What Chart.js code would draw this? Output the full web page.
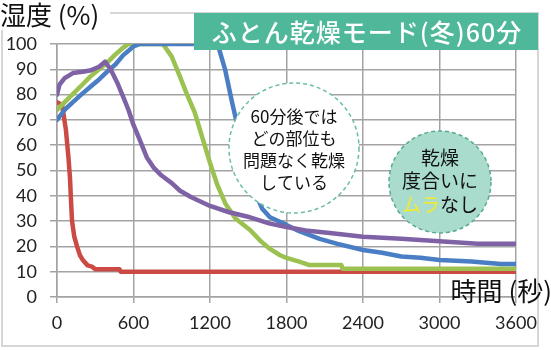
<!DOCTYPE html>
<html>
<head>
<meta charset="utf-8">
<script src="https://cdn.jsdelivr.net/npm/chart.js@4/dist/chart.umd.min.js"></script>
<style>
  body { margin: 0; background: #fff; }
  #wrap { width: 551px; height: 350px; }
</style>
</head>
<body>
<div id="wrap"><canvas id="humid" width="551" height="350"></canvas></div>
<script>
// x ticks (seconds) and y ticks (%)
const xTicks = [0, 600, 1200, 1800, 2400, 3000, 3600];
const yTicks = [0, 10, 20, 30, 40, 50, 60, 70, 80, 90, 100];

// blue
const blueT = [0, 60, 125, 190, 260, 330, 392, 460, 518, 600, 650, 1260, 1318, 1373, 1400, 1450, 1500, 1550, 1608, 1670, 1800, 1900, 2060, 2200, 2400, 2550, 2700, 2850, 3000, 3250, 3480, 3600];
const blueV = [70, 74, 77, 80, 83, 86, 89, 92, 95.5, 99, 100, 100, 90, 77, 71, 60, 50, 42, 35, 31.5, 28.5, 26, 23, 21, 18.6, 17.5, 16, 15.5, 14.6, 14, 13, 13];

// red
const redT = [0, 40, 70, 90, 102, 110, 118, 135, 157, 180, 204, 240, 274, 300, 490, 500, 3600];
const redV = [77, 76, 66, 55, 47, 38, 30, 24, 20, 16.5, 14.5, 12.5, 12, 11, 11, 10, 10];

// green
const greenT = [0, 100, 200, 259, 330, 392, 450, 518, 560, 831, 900, 965, 1020, 1080, 1140, 1200, 1260, 1320, 1400, 1514, 1600, 1670, 1750, 1800, 1900, 1980, 2230, 2240, 3600];
const greenV = [74, 79, 84, 87, 90, 92.5, 95.5, 98.5, 100, 100, 95, 87, 80, 73, 63, 53, 44, 37, 31, 26.5, 22, 19, 16.5, 15.5, 14, 12.6, 12.6, 11.2, 11.2];

// purple
const purpleT = [0, 20, 60, 125, 200, 259, 330, 377, 420, 470, 520, 560, 600, 650, 706, 760, 820, 900, 965, 1050, 1200, 1350, 1514, 1670, 1800, 1950, 2140, 2400, 2700, 3000, 3300, 3600];
const purpleV = [80, 84, 86.5, 88.5, 89, 89.5, 91, 93, 90, 85, 79, 74, 68, 62, 55, 51, 48, 45, 42, 39.5, 36, 33.5, 31.5, 29, 27.7, 26.3, 25.3, 23.8, 23, 22, 21, 21];

function pts(t, v) {
  return t.map((x, i) => ({ x: x, y: v[i] }));
}

const gridCol = '#a3a3a3';
const jp = '"Noto Sans CJK JP", "Noto Sans", sans-serif';

function line(label, t, v, col) {
  return {
    label: label,
    data: pts(t, v),
    showLine: true,
    borderColor: col,
    backgroundColor: col,
    borderWidth: 4.5,
    pointRadius: 0,
    tension: 0,
    borderJoinStyle: 'round',
    borderCapStyle: 'round'
  };
}

// frame, title box, bubbles and axis titles
const decor = {
  id: 'decor',
  beforeDraw(chart) {
    const ctx = chart.ctx;
    ctx.save();
    ctx.fillStyle = '#fff';
    ctx.fillRect(0, 0, chart.width, chart.height);
    ctx.strokeStyle = '#d6d6d6';
    ctx.lineWidth = 2;
    ctx.strokeRect(2, 13, 536, 333);
    ctx.restore();
  },
  afterDraw(chart) {
    const ctx = chart.ctx;
    ctx.save();

    // y axis title
    ctx.fillStyle = '#fff';
    ctx.fillRect(0, 0, 110, 30);
    ctx.fillStyle = '#111';
    ctx.font = '26px ' + jp;
    ctx.textAlign = 'left';
    ctx.textBaseline = 'middle';
    ctx.fillText('湿度 (%)', 0, 15);

    // x axis title
    ctx.textAlign = 'right';
    ctx.fillText('時間 (秒)', 552, 291);

    // title box
    ctx.fillStyle = '#4fb89a';
    ctx.fillRect(194, 13, 344, 37);
    ctx.fillStyle = '#fff';
    ctx.font = '500 25px ' + jp;
    ctx.textAlign = 'center';
    ctx.letterSpacing = '1px';
    ctx.fillText('ふとん乾燥モード(冬)60分', 367, 32);
    ctx.letterSpacing = '0px';

    // bubble 1
    ctx.beginPath();
    ctx.arc(294, 148, 65, 0, Math.PI * 2);
    ctx.fillStyle = '#fff';
    ctx.fill();
    ctx.setLineDash([4, 3]);
    ctx.strokeStyle = '#6cbda6';
    ctx.lineWidth = 1.5;
    ctx.stroke();
    ctx.setLineDash([]);
    ctx.fillStyle = '#111';
    ctx.font = '17px ' + jp;
    const b1 = ['60分後では', 'どの部位も', '問題なく乾燥', 'している'];
    b1.forEach((s, i) => ctx.fillText(s, 294, 117 + i * 22));

    // bubble 2
    ctx.beginPath();
    ctx.arc(440, 182, 51, 0, Math.PI * 2);
    ctx.fillStyle = '#a9dccd';
    ctx.fill();
    ctx.setLineDash([4, 3]);
    ctx.strokeStyle = '#5aaa93';
    ctx.stroke();
    ctx.setLineDash([]);
    ctx.fillStyle = '#111';
    ctx.font = '19px ' + jp;
    ctx.fillText('乾燥', 440, 158);
    ctx.fillText('度合いに', 440, 181);
    const a = 'ムラ', b = 'なし';
    const wa = ctx.measureText(a).width, wb = ctx.measureText(b).width;
    let x0 = 440 - (wa + wb) / 2;
    ctx.textAlign = 'left';
    ctx.fillStyle = '#f3ea2a';
    ctx.fillText(a, x0, 205);
    ctx.fillStyle = '#111';
    ctx.fillText(b, x0 + wa, 205);

    ctx.restore();
  }
};

new Chart('humid', {
  type: 'scatter',
  data: {
    datasets: [
      line('purple', purpleT, purpleV, '#7f62a6'),
      line('blue', blueT, blueV, '#4a7ec4'),
      line('green', greenT, greenV, '#9bc150'),
      line('red', redT, redV, '#cc4a44')
    ]
  },
  options: {
    responsive: false,
    animation: false,
    layout: { padding: { top: 44, right: 35, left: 0, bottom: 0 } },
    plugins: {
      legend: { display: false },
      tooltip: { enabled: false }
    },
    scales: {
      x: {
        type: 'linear',
        min: 0,
        max: 3600,
        afterFit: s => { s.height = 53; },
        afterBuildTicks: s => { s.ticks = xTicks.map(v => ({ value: v })); },
        grid: { color: gridCol, lineWidth: 1.5, tickLength: 6 },
        border: { color: gridCol, width: 1.5 },
        ticks: { color: '#222', font: { family: 'Lato', size: 18 }, padding: 9, maxRotation: 0, callback: v => String(v) }
      },
      y: {
        min: 0,
        max: 100,
        afterFit: s => { s.width = 57; },
        afterBuildTicks: s => { s.ticks = yTicks.map(v => ({ value: v })); },
        grid: { color: gridCol, lineWidth: 1.5, tickLength: 7 },
        border: { color: gridCol, width: 1.5 },
        ticks: { color: '#222', font: { family: 'Lato', size: 18 }, padding: 13, callback: v => String(v) }
      }
    }
  },
  plugins: [decor]
});
</script>
</body>
</html>
